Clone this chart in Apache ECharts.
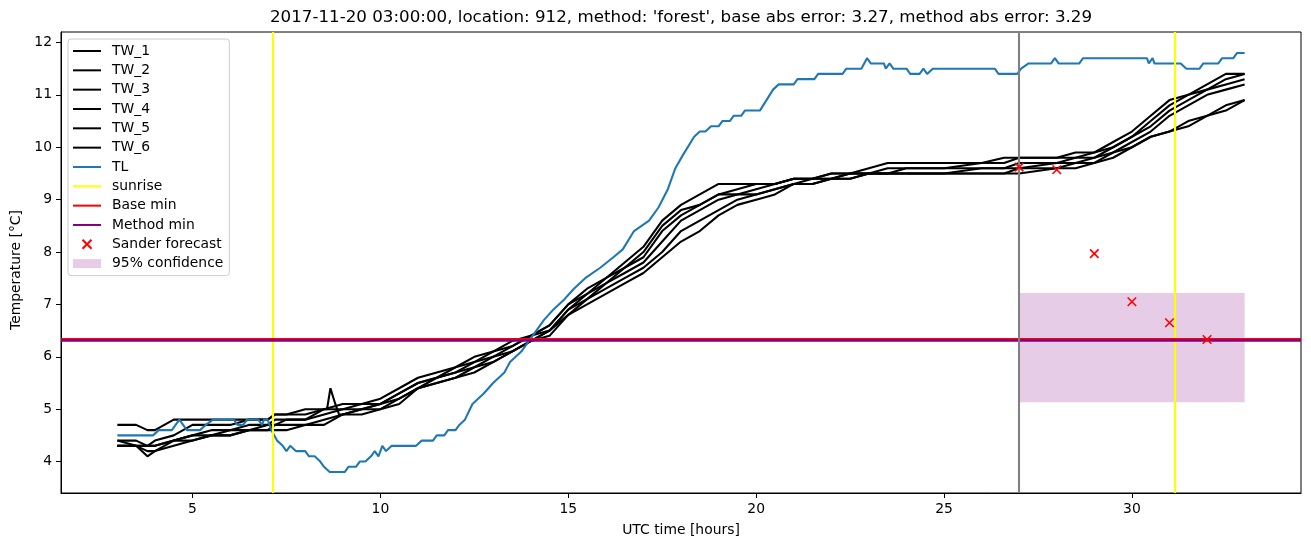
<!DOCTYPE html>
<html><head><meta charset="utf-8">
<script src="https://cdn.jsdelivr.net/npm/echarts@6/dist/echarts.min.js"></script>
<style>html,body{margin:0;padding:0;background:#fff}#c{width:1311px;height:547px}</style>
</head><body><div id="c"></div>
<script>
// ---------------- data ----------------
const titleText = "2017-11-20 03:00:00, location: 912, method: 'forest', base abs error: 3.27, method abs error: 3.29";
const twTime = [3,3.5,3.8,4,4.5,5,5.5,6,6.5,7,7.2,7.5,8,8.5,9,9.5,10,10.5,11,11.5,12,12.5,13,13.5,14,14.5,15,15.5,16,16.5,17,17.5,18,18.5,19,19.5,20,20.5,21,21.5,22,22.5,23,23.5,24,25,26,26.6,27,28,28.5,29,29.5,30,30.5,31,31.5,32,32.5,33];
const tw1 = [4.7,4.7,4.6,4.6,4.8,4.8,4.8,4.8,4.8,4.8,4.9,4.9,5.0,5.0,5.1,5.1,5.2,5.4,5.6,5.7,5.8,6.0,6.1,6.3,6.4,6.6,7.0,7.3,7.5,7.8,8.1,8.6,8.9,9.1,9.3,9.3,9.3,9.3,9.4,9.4,9.5,9.5,9.6,9.7,9.7,9.7,9.7,9.8,9.8,9.8,9.9,9.9,10.1,10.3,10.6,10.9,11.0,11.2,11.4,11.4];
const tw2 = [4.4,4.4,4.3,4.4,4.5,4.7,4.7,4.7,4.8,4.8,4.9,4.9,4.9,5.0,5.0,5.1,5.1,5.3,5.5,5.6,5.8,5.9,6.1,6.2,6.4,6.6,7.0,7.2,7.5,7.7,8.0,8.5,8.8,8.9,9.1,9.2,9.3,9.3,9.4,9.4,9.5,9.5,9.5,9.6,9.6,9.6,9.7,9.7,9.8,9.8,9.8,9.9,10.0,10.2,10.5,10.8,11.0,11.1,11.3,11.4];
const tw3 = [4.4,4.3,4.3,4.3,4.4,4.5,4.6,4.6,4.7,4.7,4.8,4.8,4.8,5.0,4.9,5.0,5.1,5.3,5.5,5.6,5.7,5.9,6.0,6.2,6.4,6.5,6.9,7.2,7.4,7.7,7.9,8.4,8.7,8.9,9.1,9.1,9.2,9.3,9.4,9.4,9.4,9.5,9.5,9.5,9.6,9.6,9.6,9.6,9.7,9.7,9.8,9.8,10.0,10.2,10.4,10.7,10.9,11.1,11.2,11.3];
const tw3Spike = [[8.58,5.0],[8.67,5.4],[8.8,5.1],[8.9,4.9]];
const tw4 = [4.3,4.3,4.2,4.2,4.4,4.5,4.5,4.6,4.6,4.7,4.7,4.8,4.8,4.9,5.0,5.0,5.1,5.2,5.4,5.6,5.7,5.8,6.0,6.1,6.3,6.5,6.9,7.1,7.4,7.6,7.8,8.2,8.6,8.8,9.0,9.1,9.1,9.2,9.3,9.4,9.4,9.5,9.5,9.5,9.5,9.5,9.6,9.6,9.6,9.7,9.7,9.8,9.9,10.1,10.3,10.6,10.8,11.0,11.1,11.2];
const tw5 = [4.3,4.3,4.1,4.2,4.3,4.4,4.5,4.5,4.6,4.6,4.7,4.7,4.7,4.8,4.9,5.0,5.0,5.2,5.4,5.5,5.6,5.8,5.9,6.1,6.3,6.5,6.8,7.1,7.3,7.5,7.7,8.0,8.4,8.6,8.8,9.0,9.1,9.2,9.3,9.3,9.4,9.4,9.5,9.5,9.5,9.5,9.5,9.5,9.6,9.6,9.7,9.7,9.9,10.0,10.2,10.3,10.5,10.6,10.8,10.9];
const tw6 = [4.3,4.3,4.3,4.3,4.4,4.4,4.5,4.5,4.6,4.6,4.6,4.6,4.7,4.7,4.9,4.9,5.0,5.1,5.4,5.5,5.6,5.7,5.9,6.1,6.3,6.4,6.8,7.0,7.2,7.4,7.6,7.9,8.2,8.4,8.7,8.9,9.0,9.1,9.3,9.3,9.4,9.4,9.5,9.5,9.5,9.5,9.5,9.5,9.5,9.6,9.6,9.7,9.8,10.0,10.2,10.3,10.4,10.6,10.7,10.9];
const tlPoints = [[3.0,4.5],[3.95,4.5],[4.1,4.6],[4.45,4.6],[4.55,4.7],[4.65,4.8],[4.85,4.6],[5.2,4.6],[5.35,4.7],[5.55,4.8],[6.1,4.8],[6.2,4.7],[6.35,4.7],[6.45,4.8],[6.75,4.8],[6.85,4.7],[6.9,4.8],[7.0,4.8],[7.1,4.6],
[7.25,4.4],[7.4,4.3],[7.5,4.2],[7.6,4.3],[7.75,4.2],[8.0,4.2],[8.1,4.1],[8.25,4.1],[8.4,4.0],[8.5,3.9],[8.65,3.8],[9.05,3.8],[9.15,3.9],[9.35,3.9],[9.45,4.0],[9.6,4.0],[9.75,4.1],[9.85,4.2],[9.95,4.1],[10.05,4.3],[10.15,4.2],[10.3,4.3],[10.95,4.3],[11.1,4.4],[11.4,4.4],[11.5,4.5],[11.7,4.5],[11.8,4.6],[12.0,4.6],[12.1,4.7],[12.25,4.8],[12.45,5.1],[12.6,5.2],[12.75,5.3],[13.0,5.5],[13.15,5.6],[13.3,5.7],[13.45,5.9],[13.75,6.1],[14.05,6.4],[14.35,6.7],[14.6,6.9],[14.9,7.1],[15.15,7.3],[15.45,7.5],[15.85,7.7],[16.2,7.9],[16.45,8.05],[16.75,8.4],[17.15,8.6],[17.4,8.85],[17.65,9.2],[17.85,9.6],[18.05,9.85],[18.35,10.2],[18.5,10.3],[18.65,10.3],[18.8,10.4],[19.0,10.4],[19.1,10.5],[19.3,10.5],[19.4,10.6],[19.6,10.6],[19.7,10.7],[20.1,10.7],[20.45,11.1],[20.6,11.2],[21.0,11.2],[21.1,11.3],[21.55,11.3],[21.65,11.4],[22.3,11.4],[22.4,11.5],[22.8,11.5],[22.95,11.7],[23.05,11.6],[23.4,11.6],[23.45,11.5],[23.55,11.6],[23.65,11.5],[24.0,11.5],[24.1,11.4],[24.35,11.4],[24.45,11.5],[24.55,11.4],[24.7,11.5],[26.35,11.5],[26.45,11.4],[26.95,11.4],[27.05,11.5],[27.25,11.6],[27.85,11.6],[27.95,11.7],[28.05,11.6],[28.6,11.6],[28.7,11.7],[30.4,11.7],[30.45,11.6],[30.55,11.7],[30.6,11.6],[31.3,11.6],[31.45,11.5],[31.8,11.5],[31.9,11.6],[32.3,11.6],[32.4,11.7],[32.7,11.7],[32.8,11.8],[33.0,11.8]];
const sunrise = [7.13, 31.15];
const forecastStart = [27];
const baseMin = [6.34];
const methodMin = [6.32];
const sanderX = [27, 28, 29, 30, 31, 32];
const sanderY = [9.62, 9.57, 7.97, 7.05, 6.65, 6.33];
const confX = [27, 33];
const confY = [5.13, 7.22];
const xTicks = [5, 10, 15, 20, 25, 30];
const yTicks = [4, 5, 6, 7, 8, 9, 10, 11, 12];
const twNames = ['TW_1','TW_2','TW_3','TW_4','TW_5','TW_6'];
const twValues = [tw1, tw2, tw3, tw4, tw5, tw6];

// ---------------- chart ----------------
const FONT = 'DejaVu Sans';
const FS = 13.9;
const LW = 2.08;
const zip = (t, v) => t.map((x, i) => [x, v[i]]);
const twSeries = twNames.map((n, k) => {
  let pts = zip(twTime, twValues[k]);
  if (n === 'TW_3') pts = pts.concat(tw3Spike).sort((a, b) => a[0] - b[0]);
  return {
    name: n, type: 'line', data: pts, symbol: 'none', z: 2,
    lineStyle: { color: '#000000', width: LW }, itemStyle: { color: '#000000' },
    emphasis: { disabled: true }
  };
});
const noLbl = { show: false };
const lineLegend = n => ({ name: n, itemStyle: { opacity: 0 } });
const option = {
  animation: false,
  backgroundColor: '#ffffff',
  title: {
    text: titleText, left: 681, textAlign: 'center', top: 9, padding: 0,
    textStyle: { fontFamily: FONT, fontSize: 16.7, fontWeight: 'normal', color: '#000' }
  },
  grid: { left: 61, right: 10, top: 32, bottom: 54, show: true, borderColor: '#000', borderWidth: 1, backgroundColor: '#fff', outerBoundsMode: 'none' },
  xAxis: {
    type: 'value', min: 1.5, max: 34.5,
    splitLine: { show: false },
    axisLine: { show: true, onZero: false, lineStyle: { color: '#000', width: 1 } },
    axisTick: { show: true, inside: false, length: 5, lineStyle: { color: '#000', width: 1 }, customValues: xTicks },
    axisLabel: { customValues: xTicks, color: '#000', fontFamily: FONT, fontSize: FS, margin: 9 },
    name: 'UTC time [hours]', nameLocation: 'middle', nameGap: 30,
    nameTextStyle: { fontFamily: FONT, fontSize: FS, color: '#000' }
  },
  yAxis: {
    type: 'value', min: 3.4, max: 12.2,
    splitLine: { show: false },
    axisLine: { show: true, onZero: false, lineStyle: { color: '#000', width: 1 } },
    axisTick: { show: true, inside: false, length: 5, lineStyle: { color: '#000', width: 1 }, customValues: yTicks },
    axisLabel: { customValues: yTicks, color: '#000', fontFamily: FONT, fontSize: FS, margin: 9 },
    name: 'Temperature [°C]', nameLocation: 'middle', nameGap: 31,
    nameTextStyle: { fontFamily: FONT, fontSize: FS, color: '#000', padding: [0, 15, 0, 0] }
  },
  legend: {
    orient: 'vertical', left: 68, top: 39, itemWidth: 28, itemHeight: 9, itemGap: 3.33,
    padding: [4, 6, 4, 4], borderColor: '#cccccc', borderWidth: 1, borderRadius: 3,
    backgroundColor: 'rgba(255,255,255,0.8)', selectedMode: false,
    textStyle: { fontFamily: FONT, fontSize: FS, color: '#000', lineHeight: 16, padding: [0, 0, 0, 6] },
    data: twNames.concat(['TL', 'sunrise', 'Base min', 'Method min']).map(lineLegend).concat([
      { name: 'Sander forecast' },
      { name: '95% confidence', icon: 'rect', itemStyle: { color: 'rgba(128,0,128,0.2)' } }])
  },
  series: twSeries.concat([
    { name: 'TL', type: 'line', data: tlPoints, symbol: 'none', z: 3,
      lineStyle: { color: '#1f77b4', width: LW }, itemStyle: { color: '#1f77b4' }, emphasis: { disabled: true } },
    { name: 'sunrise', type: 'line', data: [], symbol: 'none', z: 4,
      lineStyle: { color: '#ffff00', width: LW }, itemStyle: { color: '#ffff00' },
      markLine: { symbol: ['none', 'none'], silent: true, label: noLbl, animation: false,
        lineStyle: { color: '#ffff00', width: LW, type: 'solid' },
        data: sunrise.map(v => ({ xAxis: v })) } },
    { name: 'Base min', type: 'line', data: [], symbol: 'none', z: 4,
      lineStyle: { color: '#ff0000', width: LW }, itemStyle: { color: '#ff0000' },
      markLine: { symbol: ['none', 'none'], silent: true, label: noLbl, animation: false,
        lineStyle: { color: '#ff0000', width: LW, type: 'solid' },
        data: baseMin.map(v => ({ yAxis: v })) } },
    { name: 'Method min', type: 'line', data: [], symbol: 'none', z: 4,
      lineStyle: { color: '#800080', width: 2.6 }, itemStyle: { color: '#800080' },
      markLine: { symbol: ['none', 'none'], silent: true, label: noLbl, animation: false,
        lineStyle: { color: '#800080', width: 2.6, type: 'solid' },
        data: methodMin.map(v => ({ yAxis: v })) } },
    { name: 'forecast start', type: 'line', data: [], symbol: 'none', z: 4,
      lineStyle: { color: '#808080', width: LW }, itemStyle: { color: '#808080' },
      markLine: { symbol: ['none', 'none'], silent: true, label: noLbl, animation: false,
        lineStyle: { color: '#808080', width: LW, type: 'solid' },
        data: forecastStart.map(v => ({ xAxis: v })) } },
    { name: 'Sander forecast', type: 'scatter', z: 6,
      data: sanderX.map((x, i) => [x, sanderY[i]]),
      symbol: 'path://M0,0L10,10M10,0L0,10', symbolSize: 8.5,
      itemStyle: { color: '#ff0000', borderColor: '#ff0000', borderWidth: 1.6, opacity: 1 }, emphasis: { disabled: true } },
    { name: '95% confidence', type: 'line', data: [], symbol: 'none', z: 1,
      lineStyle: { color: 'rgba(128,0,128,0.2)' }, itemStyle: { color: 'rgba(128,0,128,0.2)' },
      markArea: { silent: true, label: noLbl, itemStyle: { color: 'rgba(128,0,128,0.2)' },
        data: [[{ xAxis: confX[0], yAxis: confY[0] }, { xAxis: confX[1], yAxis: confY[1] }]] } }
  ])
};
const chart = echarts.init(document.getElementById('c'), null, { renderer: 'canvas' });
chart.setOption(option);
</script>
</body></html>
